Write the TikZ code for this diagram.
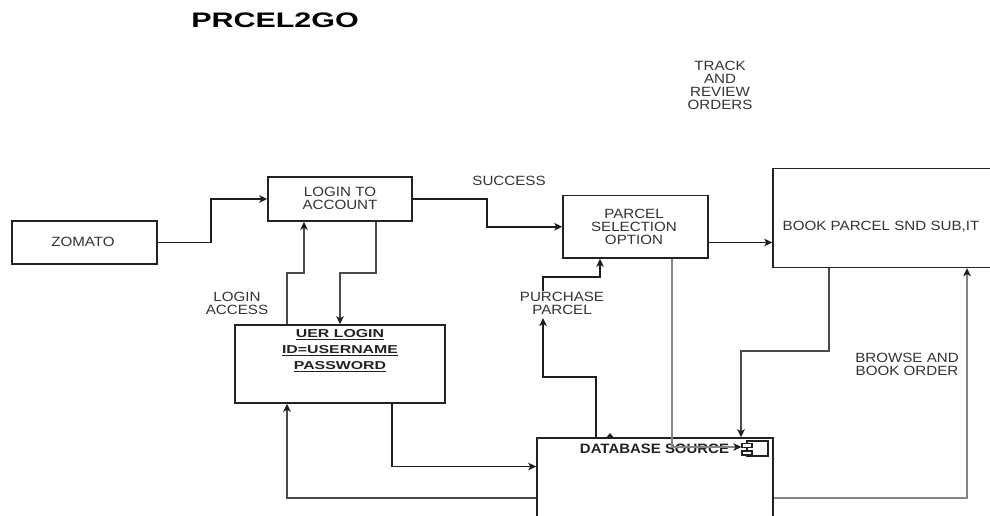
\documentclass[tikz,border=0pt]{standalone}
\usepackage{fontspec}
\setmainfont{Liberation Sans}[FakeStretch=1.13]
\newfontfamily\titlefont{Liberation Sans}[FakeStretch=1.45]
\newfontfamily\uerfont{Liberation Sans}[FakeStretch=1.38]
\newfontfamily\dbfont{Liberation Sans}[FakeStretch=1.1]
\usetikzlibrary{arrows.meta,calc}
\definecolor{ink}{HTML}{222222}
\definecolor{txt}{HTML}{333333}
\definecolor{wire}{HTML}{1E1E1E}
\definecolor{pale}{HTML}{858585}
\definecolor{mid}{HTML}{4A4A4A}

\begin{document}
\begin{tikzpicture}[x=1pt,y=-1pt,
  box/.style={draw=ink,line width=1.5pt,fill=white,inner sep=0pt},
  lbl/.style={text=txt,font=\fontsize{13.4}{13}\selectfont,align=center,inner sep=0pt},
  arr/.style={draw=wire,line width=1.5pt,-{Stealth[length=8pt,width=7.5pt,inset=2pt,color=wire]}},
  soft/.style={draw=pale,line width=2pt},
  dim/.style={draw=mid}]

\useasboundingbox (0,0) rectangle (990,516);
\clip (0,0) rectangle (990,516);

% title
\node[inner sep=0pt,font=\titlefont\bfseries\fontsize{21}{21}\selectfont] (title) at (275,20) {PRCEL2GO};

% boxes
\node[box,minimum width=145pt,minimum height=43pt] (zomato) at (84.5,242.5) {};
\node[lbl] (zomatotxt) at (83,242) {ZOMATO};

\node[box,minimum width=144pt,minimum height=44pt] (login) at (340,199) {};
\node[lbl] (logintxt) at (340,198.5) {LOGIN TO\\ACCOUNT};

\node[box,minimum width=145pt,minimum height=62.5pt] (parcel) at (635.5,226.75) {};
\node[lbl] (parceltxt) at (634,226.5) {PARCEL\\SELECTION\\OPTION};

\node[box,minimum width=240pt,minimum height=98.8pt] (book) at (893,218) {};
\node[lbl] (booktxt) at (881,227) {BOOK PARCEL SND SUB,IT};

\node[box,minimum width=210pt,minimum height=78pt] (uer) at (340,364) {};
\node[inner sep=0pt,align=center,text=ink,font=\uerfont\bfseries\fontsize{11.5}{16}\selectfont] (uertxt) at (340,351)
  {\underline{UER LOGIN}\\\underline{ID=USERNAME}\\\underline{PASSWORD}};

\node[box,minimum width=236pt,minimum height=120pt] (db) at (655,498) {};
\node[inner sep=0pt,text=ink,font=\dbfont\bfseries\fontsize{13.6}{14}\selectfont] (dbtxt) at (654.5,449) {DATABASE SOURCE};

% component symbol
\node[draw=ink,line width=1.1pt,fill=white,minimum width=21pt,minimum height=15pt,inner sep=0pt] (comp) at (757.5,448.5) {};
\draw[ink,line width=1.1pt,fill=white] (742,443.5) rectangle (752,447.5);
\draw[ink,line width=1.1pt,fill=white] (742,451) rectangle (752,455);

% free labels
\node[lbl] (track) at (720,85) {TRACK\\AND\\REVIEW\\ORDERS};
\node[lbl] (success) at (509,181) {SUCCESS};
\node[lbl] (access) at (237,303) {LOGIN\\ACCESS};
\node[lbl] (purchase) at (562,303) {PURCHASE\\PARCEL};
\node[lbl] (browse) at (907,364) {BROWSE AND\\BOOK ORDER};

\coordinate (pp-in) at (543,318);
\coordinate (pp-out) at (543,291);

% connectors
\draw[arr] (zomato.east) -- (211,242.5) |- (login.west);
\draw[arr] (login.east) -- (487,199) |- (parcel.west);
\draw[arr] (parcel.east |- 0,242.5) -- (book.west |- 0,242.5);
\draw[arr,dim] (uer.north -| 287,0) |- (304,273) -- (login.south -| 304,0);
\draw[arr,dim] (login.south -| 376,0) |- (340,273) -- (uer.north);
\draw[arr] (uer.south -| 392,0) |- (db.west |- 0,466.5);
\draw[arr,dim] (db.west |- 0,498) -| (uer.south -| 287,0);
\draw[arr] (db.north -| 596,0) -- (596,377) -| (pp-in);
\draw[arr] (pp-out) |- (600,277) -- (parcel.south -| 600,0);
\draw[arr,soft] (parcel.south -| 671.5,0) |- ($(comp.west)+(-5,-1.5)$);
\draw[arr,dim] (book.south -| 829,0) |- (741,351) -- (db.north -| 741,0);
\draw[arr,soft] (db.east |- 0,498) -| (book.south -| 967,0);
\fill[wire] (606,438) -- (610,433) -- (614,438) -- cycle;

\end{tikzpicture}
\end{document}
